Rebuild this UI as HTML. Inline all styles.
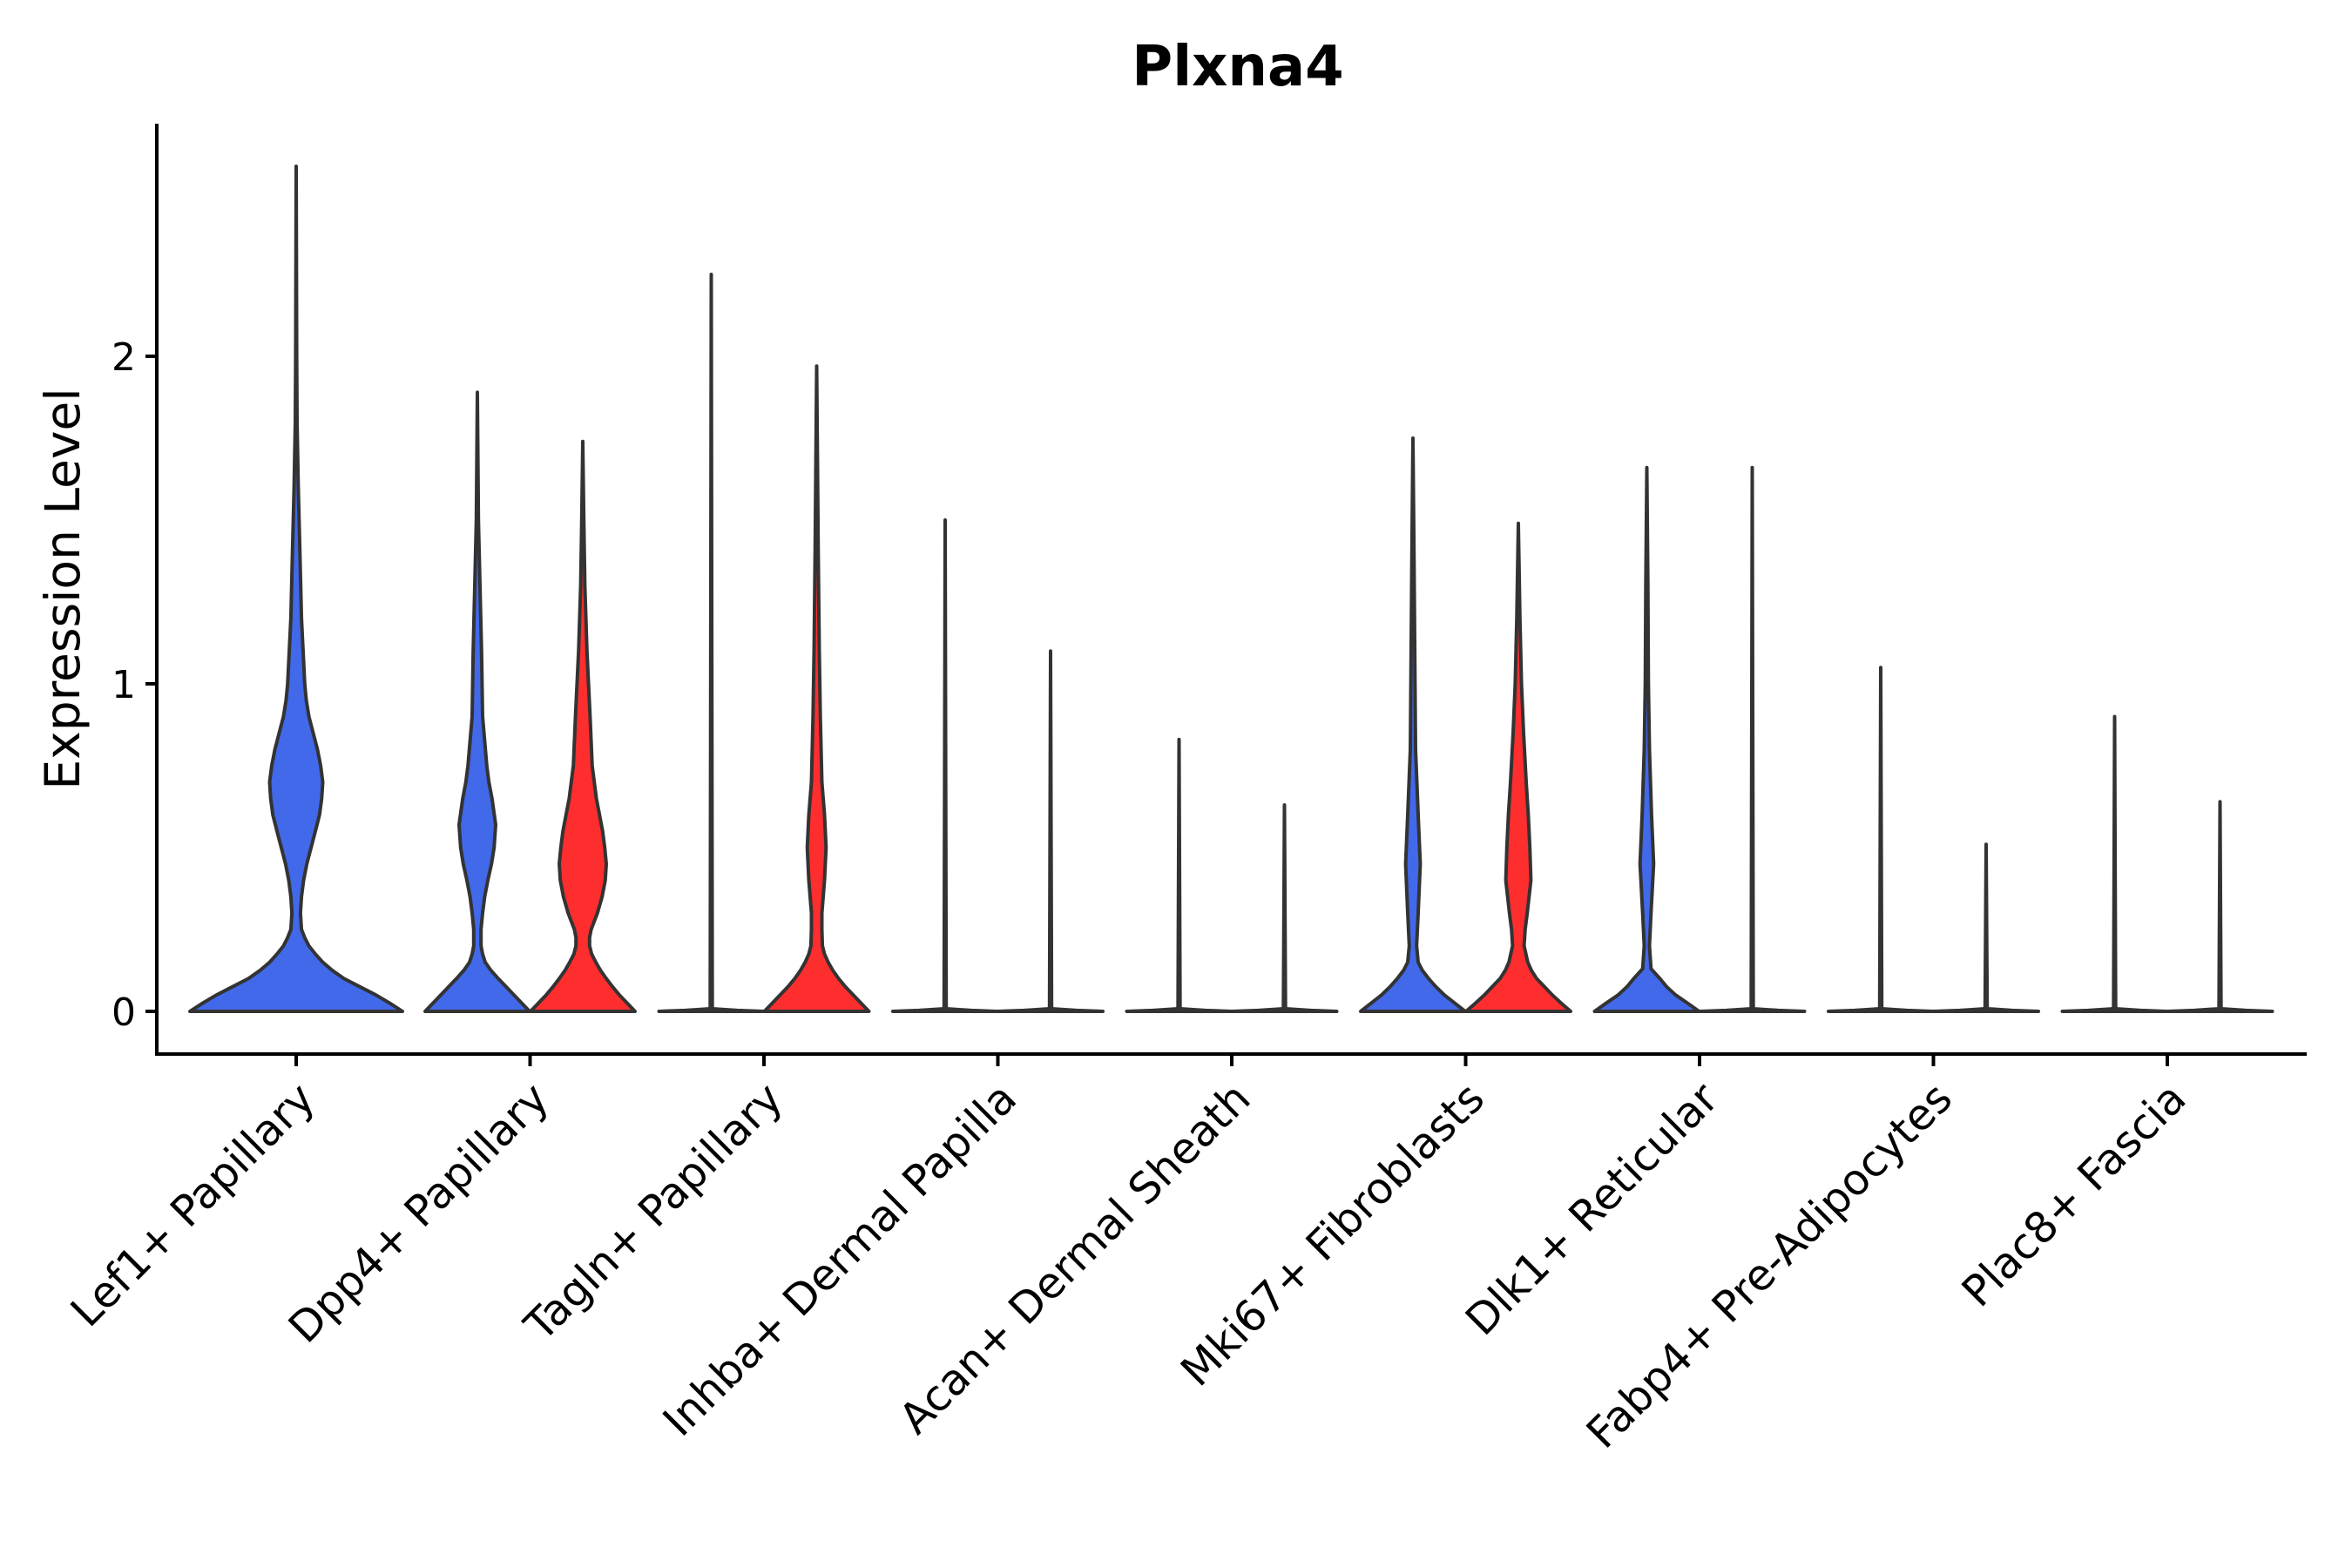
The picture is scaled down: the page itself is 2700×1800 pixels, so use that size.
<!DOCTYPE html>
<html><head><meta charset="utf-8"><style>
html,body{margin:0;padding:0;background:#fff}
svg{display:block}
text{font-family:"DejaVu Sans","Liberation Sans",sans-serif;fill:#000}
</style></head>
<body>
<svg id="chart" width="2700" height="1800" viewBox="0 0 2700 1800" xmlns="http://www.w3.org/2000/svg">
<text x="1421" y="98" text-anchor="middle" font-size="64" font-weight="bold">Plxna4</text>
<g id="plot"></g>
</svg>
<script>
const categories = ["Lef1+ Papillary","Dpp4+ Papillary","Tagln+ Papillary","Inhba+ Dermal Papilla","Acan+ Dermal Sheath","Mki67+ Fibroblasts","Dlk1+ Reticular","Fabp4+ Pre-Adipocytes","Plac8+ Fascia"];
const yTicks = [0,1,2];
// per violin: category index, group (0 blue,1 red), full-width flag
const violinCat = [0,1,1,2,2,3,3,4,4,5,5,6,6,7,7,8,8];
const violinGroup = [0,0,1,0,1,0,1,0,1,0,1,0,1,0,1,0,1];
const violinFull = [1,0,0,0,0,0,0,0,0,0,0,0,0,0,0,0,0];
const violinMax = [2.58,1.89,1.74,2.25,1.97,1.50,1.10,0.83,0.63,1.75,1.49,1.66,1.66,1.05,0.51,0.90,0.64];
const flatProfile = [[0,1],[0.003,0.5],[0.008,0.02]];
const profiles = [
 [[0,1],[0.025,0.88],[0.05,0.75],[0.075,0.6],[0.1,0.45],[0.125,0.34],[0.15,0.25],[0.175,0.18],[0.2,0.12],[0.225,0.08],[0.25,0.05],[0.3,0.04],[0.35,0.05],[0.4,0.07],[0.45,0.1],[0.5,0.14],[0.55,0.18],[0.6,0.22],[0.65,0.24],[0.7,0.25],[0.75,0.23],[0.8,0.2],[0.85,0.16],[0.9,0.12],[0.95,0.095],[1.0,0.08],[1.2,0.05],[1.4,0.035],[1.6,0.02],[1.8,0.008],[2.0,0.005]],
 [[0,1],[0.025,0.85],[0.05,0.7],[0.075,0.55],[0.1,0.4],[0.125,0.26],[0.15,0.15],[0.175,0.1],[0.2,0.07],[0.25,0.07],[0.3,0.1],[0.35,0.14],[0.4,0.2],[0.45,0.27],[0.5,0.32],[0.57,0.35],[0.65,0.28],[0.7,0.22],[0.75,0.18],[0.9,0.1],[1.1,0.08],[1.3,0.05],[1.5,0.02]],
 [[0,1],[0.025,0.85],[0.05,0.7],[0.075,0.57],[0.1,0.45],[0.125,0.34],[0.15,0.25],[0.175,0.17],[0.2,0.13],[0.225,0.13],[0.25,0.16],[0.3,0.28],[0.35,0.37],[0.4,0.43],[0.45,0.45],[0.5,0.42],[0.55,0.38],[0.6,0.32],[0.65,0.26],[0.75,0.18],[0.9,0.14],[1.1,0.08],[1.3,0.04],[1.5,0.02]],
 flatProfile,
 [[0,1],[0.025,0.85],[0.05,0.7],[0.075,0.55],[0.1,0.42],[0.125,0.31],[0.15,0.22],[0.175,0.15],[0.2,0.11],[0.25,0.1],[0.3,0.1],[0.4,0.15],[0.5,0.18],[0.6,0.15],[0.7,0.1],[0.9,0.07],[1.1,0.05],[1.4,0.03]],
 flatProfile, flatProfile, flatProfile, flatProfile,
 [[0,1],[0.025,0.8],[0.05,0.6],[0.075,0.44],[0.1,0.3],[0.125,0.18],[0.15,0.1],[0.2,0.07],[0.3,0.1],[0.45,0.14],[0.6,0.1],[0.8,0.05],[1.0,0.04],[1.2,0.03],[1.4,0.02]],
 [[0,1],[0.025,0.82],[0.05,0.65],[0.075,0.5],[0.1,0.35],[0.125,0.25],[0.15,0.18],[0.2,0.11],[0.25,0.13],[0.3,0.17],[0.4,0.24],[0.5,0.22],[0.6,0.19],[0.7,0.15],[0.85,0.1],[1.0,0.06],[1.2,0.03]],
 [[0,1],[0.025,0.78],[0.05,0.55],[0.075,0.38],[0.1,0.25],[0.13,0.08],[0.2,0.05],[0.3,0.08],[0.45,0.13],[0.6,0.09],[0.8,0.05],[1.0,0.03],[1.3,0.02]],
 flatProfile, flatProfile, flatProfile, flatProfile, flatProfile
];
const colors = ["#4169E9","#FF2E2E"];

const NS="http://www.w3.org/2000/svg";
const plot=document.getElementById('plot');
const X0=340, DX=268.5, AX_L=180, AX_R=2648, AX_B=1210, AX_T=142;
function xScale(i){return X0+i*DX;}
function yScale(v){return 1161-v*376;}
function mk(tag,attrs){const e=document.createElementNS(NS,tag);for(const k in attrs)e.setAttribute(k,attrs[k]);return e;}

// violins
violinMax.forEach((mx,k)=>{
  const full=violinFull[k]===1;
  const cx = full ? xScale(violinCat[k]) : xScale(violinCat[k]) + (violinGroup[k]===0?-60.5:60.5);
  const hw = full ? 122 : 60;
  const pts = profiles[k].filter(p=>p[0]<mx).concat([[mx,0]]);
  let left=[], right=[];
  pts.forEach(p=>{const y=yScale(p[0]);left.push([cx-p[1]*hw,y]);right.push([cx+p[1]*hw,y]);});
  const seq = left.concat(right.reverse());
  let d="M"+seq.map(p=>p[0].toFixed(1)+","+p[1].toFixed(1)).join(" L")+"Z";
  const path=mk('path',{d:d,fill:colors[violinGroup[k]],stroke:'#333','stroke-width':4,'stroke-linejoin':'round'});
  
  
  plot.appendChild(path);
});

// axes
const yAxis=mk('line',{x1:AX_L,y1:AX_T,x2:AX_L,y2:AX_B+2,stroke:'#000','stroke-width':4});


plot.appendChild(yAxis);
const xAxis=mk('line',{x1:AX_L-2,y1:AX_B,x2:AX_R,y2:AX_B,stroke:'#000','stroke-width':4});


plot.appendChild(xAxis);

yTicks.forEach(v=>{
  const y=yScale(v);
  const t=mk('line',{x1:AX_L-13,y1:y,x2:AX_L,y2:y,stroke:'#000','stroke-width':4});
  
  
  plot.appendChild(t);
  const l=mk('text',{x:AX_L-24,y:y+16,'text-anchor':'end','font-size':44});
  l.textContent=String(v);
  
  
  plot.appendChild(l);
});

categories.forEach((c,i)=>{
  const x=xScale(i);
  const t=mk('line',{x1:x,y1:AX_B,x2:x,y2:AX_B+14,stroke:'#000','stroke-width':4});
  
  
  plot.appendChild(t);
  const ax=x+24, ay=1264;
  const l=mk('text',{x:ax,y:ay,'text-anchor':'end','font-size':49,transform:'rotate(-45 '+ax+' '+ay+')'});
  l.textContent=c;
  
  
  plot.appendChild(l);
});

const yl=mk('text',{x:0,y:0,'text-anchor':'middle','font-size':55,transform:'translate(91 676) rotate(-90)'});
yl.textContent='Expression Level';


plot.appendChild(yl);
</script>
</body></html>
